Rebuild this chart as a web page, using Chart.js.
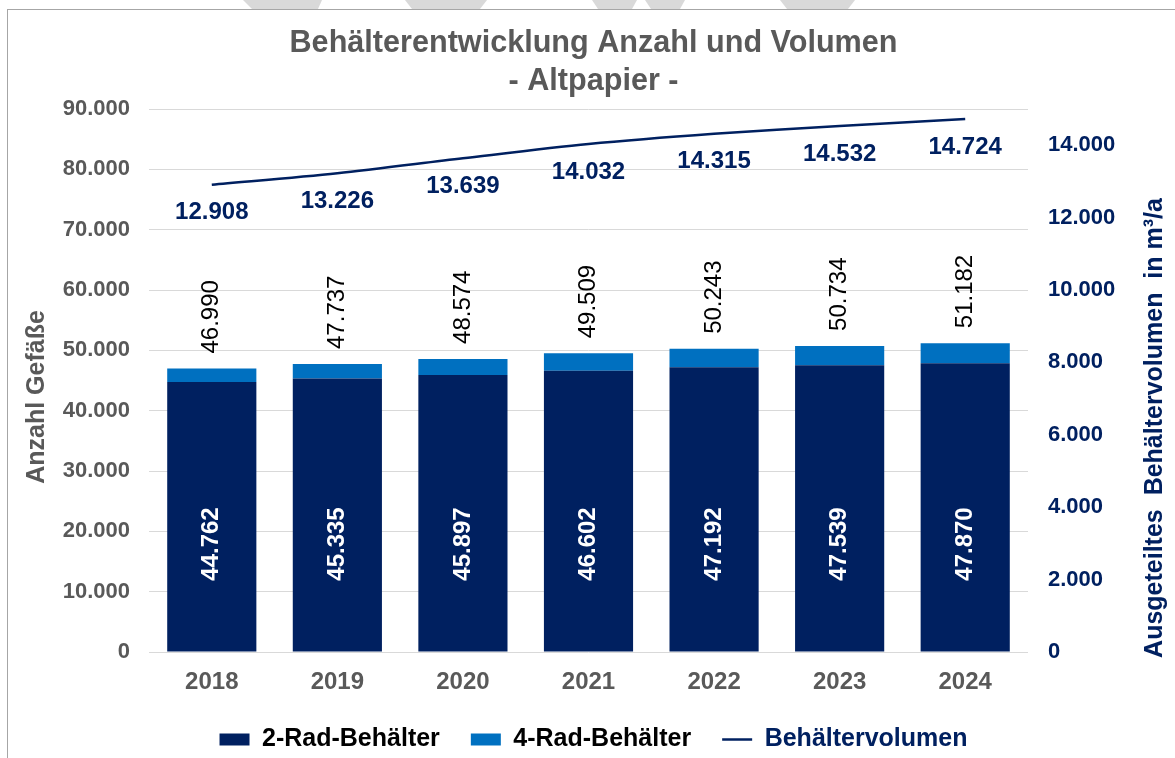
<!DOCTYPE html>
<html lang="de">
<head>
<meta charset="utf-8">
<title>Behälterentwicklung Anzahl und Volumen - Altpapier</title>
<script src="https://cdn.jsdelivr.net/npm/chart.js@4.4.1/dist/chart.umd.min.js"></script>
<style>
  html, body { margin: 0; padding: 0; background: #ffffff; }
  #wrap { position: relative; width: 1175px; height: 758px; overflow: hidden; background: #ffffff; }
  #chart { position: absolute; left: 0; top: 0; }
  #frame { position: absolute; left: 7px; top: 9px; width: 1200px; height: 800px;
           border-top: 1px solid #a6a6a6; border-left: 1px solid #a6a6a6; pointer-events: none; }
  #wm { position: absolute; left: 0; top: 0; }
</style>
</head>
<body>
<div id="wrap">
  <svg id="wm" width="1175" height="9" viewBox="0 0 1175 9">
    <polygon points="243,0 322,0 318,9 252,9" fill="#d9d9d9"/>
    <polygon points="405,0 487,0 480,9 412,9" fill="#d9d9d9"/>
    <polygon points="592,0 637,0 632,9 598,9" fill="#d9d9d9"/>
    <polygon points="645,0 685,0 680,9 651,9" fill="#d9d9d9"/>
    <polygon points="780,0 855,0 848,9 787,9" fill="#d9d9d9"/>
  </svg>
  <canvas id="chart" width="1175" height="758"></canvas>
  <div id="frame"></div>
</div>
<script>
// ---- data ----
const categories = ['2018', '2019', '2020', '2021', '2022', '2023', '2024'];
const rad2Values = [44762, 45335, 45897, 46602, 47192, 47539, 47870];
const rad4Values = [2228, 2402, 2677, 2907, 3051, 3195, 3312];
const totalValues = [46990, 47737, 48574, 49509, 50243, 50734, 51182];
const volumeValues = [12908, 13226, 13639, 14032, 14315, 14532, 14724];
const countTicks = [0, 10000, 20000, 30000, 40000, 50000, 60000, 70000, 80000, 90000];
const volumeTicks = [0, 2000, 4000, 6000, 8000, 10000, 12000, 14000];
const seriesNames = ['2-Rad-Behälter', '4-Rad-Behälter', 'Behältervolumen'];
const titleLines = ['Behälterentwicklung Anzahl und Volumen', '- Altpapier -'];
const leftAxisTitle = 'Anzahl Gefäße';
const rightAxisTitle = 'Ausgeteiltes  Behältervolumen  in m³/a';

// ---- styles ----
const NAVY = '#002060';
const BLUE = '#0070C0';
const GRAY = '#595959';
const FONT = "'Liberation Sans', Arial, sans-serif";

function fmt(v) {
  return String(Math.round(v)).replace(/\B(?=(\d{3})+(?!\d))/g, '.');
}

const labelPlugin = {
  id: 'labelPlugin',
  afterDatasetsDraw(chart) {
    const ctx = chart.ctx;
    const area = chart.chartArea;
    const m0 = chart.getDatasetMeta(0);
    const m1 = chart.getDatasetMeta(1);
    const m2 = chart.getDatasetMeta(2);
    ctx.save();
    // values inside the 2-Rad bars
    ctx.font = 'bold 24px ' + FONT;
    ctx.fillStyle = '#ffffff';
    ctx.textAlign = 'center';
    ctx.textBaseline = 'middle';
    m0.data.forEach((bar, i) => {
      ctx.save();
      ctx.translate(bar.x, area.bottom - 108);
      ctx.rotate(-Math.PI / 2);
      ctx.fillText(fmt(rad2Values[i]), 0, 0);
      ctx.restore();
    });
    // totals above the stacks
    ctx.font = '24px ' + FONT;
    ctx.fillStyle = '#000000';
    ctx.textAlign = 'left';
    m1.data.forEach((bar, i) => {
      ctx.save();
      ctx.translate(bar.x, bar.y - 15);
      ctx.rotate(-Math.PI / 2);
      ctx.fillText(fmt(totalValues[i]), 0, 0);
      ctx.restore();
    });
    // volume labels below the line
    ctx.font = 'bold 24px ' + FONT;
    ctx.fillStyle = NAVY;
    ctx.textAlign = 'center';
    m2.data.forEach((pt, i) => {
      ctx.fillText(fmt(volumeValues[i]), pt.x, pt.y + 28);
    });
    // axis titles
    ctx.save();
    ctx.font = 'bold 25px ' + FONT;
    ctx.fillStyle = GRAY;
    ctx.translate(37, 397);
    ctx.rotate(-Math.PI / 2);
    ctx.fillText(leftAxisTitle, 0, 0);
    ctx.restore();
    ctx.save();
    ctx.font = 'bold 25px ' + FONT;
    ctx.fillStyle = NAVY;
    ctx.translate(1155, 428);
    ctx.rotate(-Math.PI / 2);
    ctx.fillText(rightAxisTitle, 0, 0);
    ctx.restore();
    ctx.restore();
  }
};

new Chart(document.getElementById('chart'), {
  data: {
    labels: categories,
    datasets: [
      {
        type: 'bar', label: seriesNames[0], data: rad2Values,
        backgroundColor: NAVY, yAxisID: 'y', stack: 's', order: 2,
        categoryPercentage: 1.0, barPercentage: 0.71
      },
      {
        type: 'bar', label: seriesNames[1], data: rad4Values,
        backgroundColor: BLUE, yAxisID: 'y', stack: 's', order: 2,
        categoryPercentage: 1.0, barPercentage: 0.71
      },
      {
        type: 'line', label: seriesNames[2], data: volumeValues,
        borderColor: NAVY, backgroundColor: NAVY, borderWidth: 2.5,
        pointRadius: 0, tension: 0.3, yAxisID: 'y2', order: 1, fill: false
      }
    ]
  },
  options: {
    responsive: false,
    animation: false,
    devicePixelRatio: 1,
    layout: { padding: { left: 12, right: 0, top: 0, bottom: -4 } },
    plugins: {
      tooltip: { enabled: false },
      title: {
        display: true,
        text: titleLines,
        color: GRAY,
        font: { family: FONT, size: 30.6, weight: 'bold', lineHeight: 38 / 30.6 },
        padding: { top: 25, bottom: 8 }
      },
      legend: {
        position: 'bottom',
        labels: {
          usePointStyle: true,
          pointStyleWidth: 30,
          boxHeight: 12,
          padding: 31,
          font: { family: FONT, size: 25, weight: 'bold' },
          generateLabels(chart) {
            return chart.data.datasets.map((ds, i) => ({
              text: ds.label,
              fillStyle: i < 2 ? ds.backgroundColor : ds.borderColor,
              strokeStyle: i < 2 ? ds.backgroundColor : ds.borderColor,
              lineWidth: i < 2 ? 0 : 2.5,
              pointStyle: i < 2 ? 'rect' : 'line',
              fontColor: i < 2 ? '#000000' : NAVY,
              hidden: false,
              datasetIndex: i
            }));
          }
        }
      }
    },
    scales: {
      x: {
        stacked: true,
        grid: { display: false, drawTicks: false },
        border: { display: false },
        ticks: { color: GRAY, padding: 16, font: { family: FONT, size: 24, weight: 'bold' } },
        afterFit(scale) { scale.height = 44; }
      },
      y: {
        position: 'left',
        stacked: true,
        min: 0, max: 90000,
        grid: { color: '#d9d9d9', lineWidth: 1, drawTicks: false },
        border: { display: false },
        ticks: {
          padding: 19, color: GRAY,
          font: { family: FONT, size: 22, weight: 'bold' },
          callback: (v) => fmt(v)
        },
        afterBuildTicks(scale) { scale.ticks = countTicks.map(v => ({ value: v })); },
        afterFit(scale) { scale.width = 137; }
      },
      y2: {
        position: 'right',
        min: 0, max: 15000,
        grid: { display: false, drawTicks: false },
        border: { display: false },
        ticks: {
          padding: 20, color: NAVY,
          font: { family: FONT, size: 22, weight: 'bold' },
          callback: (v) => fmt(v)
        },
        afterBuildTicks(scale) { scale.ticks = volumeTicks.map(v => ({ value: v })); },
        afterFit(scale) { scale.width = 147; }
      }
    }
  },
  plugins: [labelPlugin]
});
</script>
</body>
</html>
